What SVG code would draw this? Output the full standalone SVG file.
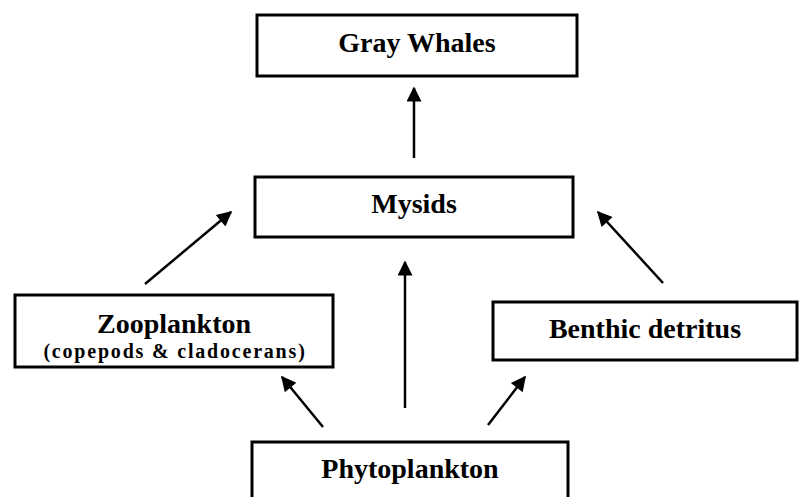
<svg xmlns="http://www.w3.org/2000/svg" width="800" height="497" viewBox="0 0 800 497">
<style>
.box{fill:#fff;stroke:#000;stroke-width:3}
.lbl{font-family:"Liberation Serif","Times New Roman",serif;font-weight:bold;font-size:28px;fill:#000;text-anchor:middle}
.sub{font-family:"Liberation Serif","Times New Roman",serif;font-weight:bold;font-size:20px;fill:#000;text-anchor:middle;letter-spacing:1.8px}
.edge{stroke:#000;stroke-width:2.5;fill:none;marker-end:url(#ah)}
</style>
<defs>
<marker id="ah" viewBox="0 0 10 10" refX="9" refY="5" markerUnits="userSpaceOnUse" markerWidth="20" markerHeight="15" orient="auto">
<path d="M0,0 L10,5 L0,10 z" fill="#000"/>
</marker>
</defs>
<rect width="800" height="497" fill="#fff"/>
<g id="edges">
<line class="edge" x1="414" y1="158" x2="414" y2="88"/>
<line class="edge" x1="145" y1="284" x2="231" y2="212"/>
<line class="edge" x1="663" y1="283" x2="598" y2="212"/>
<line class="edge" x1="323" y1="427" x2="282" y2="377"/>
<line class="edge" x1="405" y1="408" x2="405" y2="262"/>
<line class="edge" x1="488" y1="425" x2="525" y2="377"/>
</g>
<g id="gray-whales">
<rect class="box" x="257" y="15" width="320" height="61"/>
<text class="lbl" x="417" y="52">Gray Whales</text>
</g>
<g id="mysids">
<rect class="box" x="255" y="177" width="318" height="60"/>
<text class="lbl" x="414" y="213">Mysids</text>
</g>
<g id="zooplankton">
<rect class="box" x="15" y="295" width="318" height="72"/>
<text class="lbl" x="174" y="333">Zooplankton</text>
<text class="sub" x="175" y="358">(copepods &amp; cladocerans)</text>
</g>
<g id="benthic">
<rect class="box" x="493" y="302" width="304" height="58"/>
<text class="lbl" x="645" y="338">Benthic detritus</text>
</g>
<g id="phytoplankton">
<rect class="box" x="252" y="442" width="316" height="62"/>
<text class="lbl" x="410" y="478">Phytoplankton</text>
</g>
</svg>
